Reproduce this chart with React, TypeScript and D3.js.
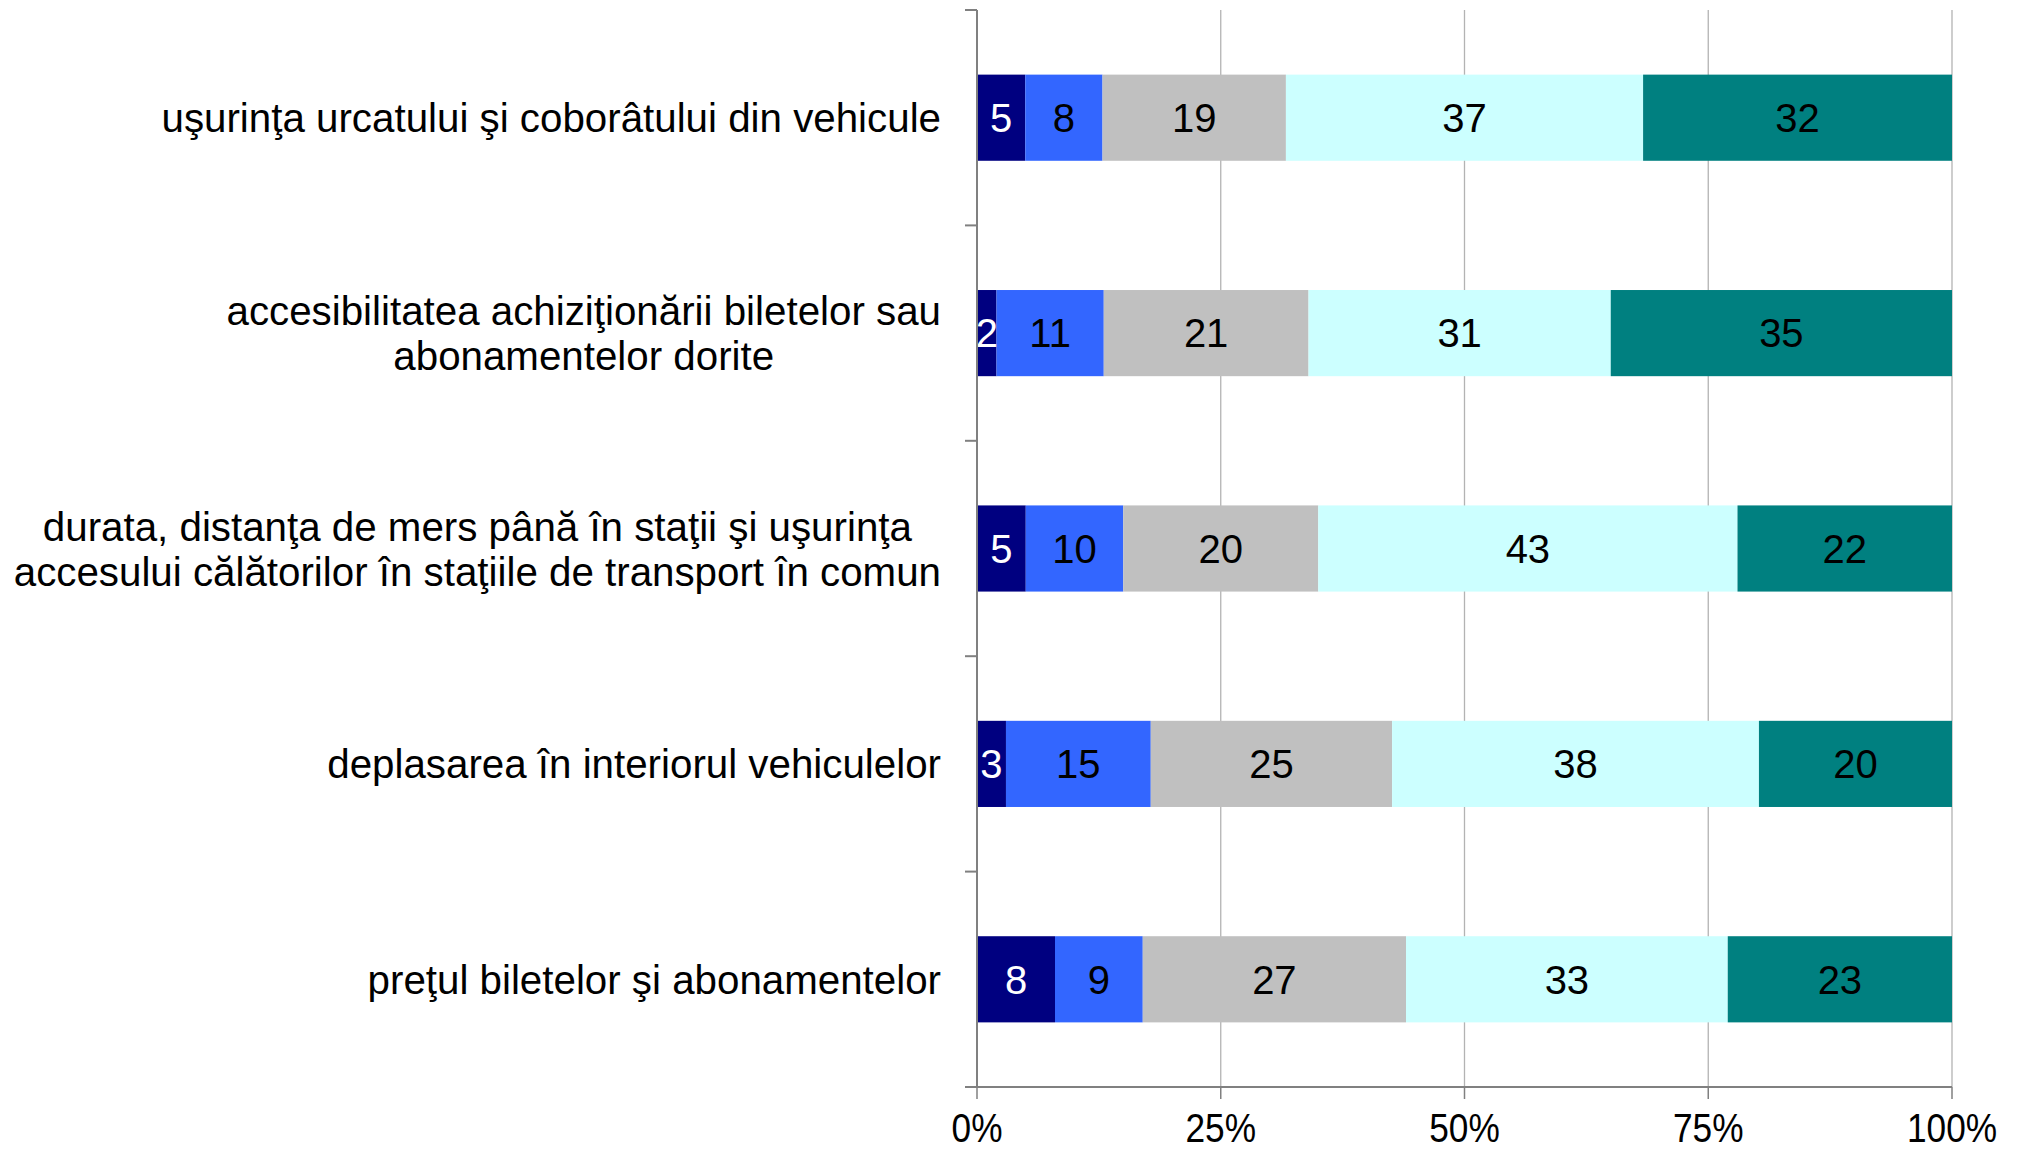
import { useEffect, useRef } from "react";
import * as d3 from "d3";

// categories, top to bottom; "\n" splits a label in lines
const categories = [
  "uşurinţa urcatului şi coborâtului din vehicule",
  "accesibilitatea achiziţionării biletelor sau\nabonamentelor dorite",
  "durata, distanţa de mers până în staţii şi uşurinţa\naccesului călătorilor în staţiile de transport în comun",
  "deplasarea în interiorul vehiculelor",
  "preţul biletelor şi abonamentelor",
];

// five answer levels, one array each (values per category)
const level1 = [5, 2, 5, 3, 8];
const level2 = [8, 11, 10, 15, 9];
const level3 = [19, 21, 20, 25, 27];
const level4 = [37, 31, 43, 38, 33];
const level5 = [32, 35, 22, 20, 23];

const seriesColors = ["#000080", "#3366ff", "#c0c0c0", "#ccffff", "#008080"];
const labelColors = ["#ffffff", "#000000", "#000000", "#000000", "#000000"];
const xTicks = [0, 0.25, 0.5, 0.75, 1];

const FONT = "'Liberation Sans', Arial, sans-serif";

export default function App() {
  const svgRef = useRef<SVGSVGElement>(null);

  useEffect(() => {
    const el = svgRef.current;
    if (!el) return;
    const W = 2024, H = 1153;
    const m = { top: 10, right: 72, bottom: 66, left: 977 };
    const iW = W - m.left - m.right;
    const iH = H - m.top - m.bottom;

    const svg = d3.select(el);
    svg.selectAll("*").remove();
    const g = svg.append("g").attr("transform", `translate(${m.left},${m.top})`);

    const series = [level1, level2, level3, level4, level5];
    const rows = categories.map((c, i) => {
      const vals = series.map(s => s[i]);
      const total = d3.sum(vals);
      let acc = 0;
      const segs = vals.map((v, k) => {
        const s = { k, v, x0: acc / total, x1: (acc + v) / total };
        acc += v;
        return s;
      });
      return { c, segs };
    });

    const x = d3.scaleLinear().domain([0, 1]).range([0, iW]);
    const y = d3.scaleBand().domain(categories).range([0, iH]).paddingInner(0.6).paddingOuter(0.3);
    const band = iH / categories.length;

    // gridlines
    g.append("g")
      .selectAll("line")
      .data(xTicks.slice(1))
      .join("line")
      .attr("x1", d => x(d)).attr("x2", d => x(d))
      .attr("y1", 0).attr("y2", iH)
      .attr("stroke", "#b3b3b3").attr("stroke-width", 1.3);

    // bars
    const rowG = g.selectAll("g.row").data(rows).join("g").attr("class", "row")
      .attr("transform", d => `translate(0,${y(d.c)})`);
    rowG.selectAll("rect")
      .data(d => d.segs)
      .join("rect")
      .attr("x", d => x(d.x0))
      .attr("width", d => x(d.x1) - x(d.x0))
      .attr("y", 0)
      .attr("height", y.bandwidth())
      .attr("fill", d => seriesColors[d.k]);
    rowG.selectAll("text")
      .data(d => d.segs)
      .join("text")
      .attr("x", d => (x(d.x0) + x(d.x1)) / 2)
      .attr("y", y.bandwidth() / 2)
      .attr("dy", "0.36em")
      .attr("text-anchor", "middle")
      .attr("font-family", FONT)
      .attr("font-size", 40)
      .attr("fill", d => labelColors[d.k])
      .text(d => d.v);

    // left axis: line + ticks at band boundaries
    const yTicks = d3.range(categories.length + 1).map(i => i * band);
    g.append("g").selectAll("line").data(yTicks).join("line")
      .attr("x1", -12).attr("x2", 0).attr("y1", d => d).attr("y2", d => d)
      .attr("stroke", "#808080").attr("stroke-width", 2);
    g.append("line").attr("x1", 0).attr("x2", 0).attr("y1", 0).attr("y2", iH)
      .attr("stroke", "#808080").attr("stroke-width", 2);

    // bottom axis
    g.append("line").attr("x1", -12).attr("x2", iW).attr("y1", iH).attr("y2", iH)
      .attr("stroke", "#808080").attr("stroke-width", 2);
    g.append("g").selectAll("line").data(xTicks).join("line")
      .attr("x1", d => x(d)).attr("x2", d => x(d)).attr("y1", iH).attr("y2", iH + 12)
      .attr("stroke", "#808080").attr("stroke-width", 1.5);
    g.append("g").selectAll("text").data(xTicks).join("text")
      .attr("transform", d => `translate(${x(d)},${iH + 55}) scale(0.86,1)`)
      .attr("text-anchor", "middle")
      .attr("font-family", FONT)
      .attr("font-size", 41)
      .attr("fill", "#000")
      .text(d => d3.format(".0%")(d));

    // category labels: lines centred on each other, block right-aligned
    const labelRight = -36;
    const lineH = 45;
    categories.forEach(c => {
      const lines = c.split("\n");
      const cy = (y(c) ?? 0) + y.bandwidth() / 2;
      const tg = g.append("g");
      const texts = lines.map((ln, i) =>
        tg.append("text")
          .attr("y", cy + (i - (lines.length - 1) / 2) * lineH)
          .attr("dy", "0.36em")
          .attr("text-anchor", "middle")
          .attr("font-family", FONT)
          .attr("font-size", 40.3)
          .attr("fill", "#000")
          .text(ln)
      );
      const widths = texts.map(t => (t.node() as SVGTextElement).getComputedTextLength());
      const maxW = d3.max(widths) ?? 0;
      texts.forEach(t => t.attr("x", labelRight - maxW / 2));
    });
  }, []);

  return (
    <svg
      ref={svgRef}
      width={2024}
      height={1153}
      style={{ position: "absolute", left: 0, top: 0, background: "#fff" }}
    />
  );
}
